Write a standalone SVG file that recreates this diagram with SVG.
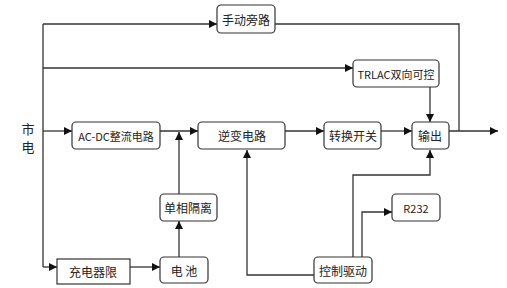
<svg xmlns="http://www.w3.org/2000/svg" width="507" height="288" viewBox="0 0 507 288">
<defs>
<marker id="ar" viewBox="0 0 10 10" refX="10" refY="5" markerWidth="9" markerHeight="8" markerUnits="userSpaceOnUse" orient="auto">
<path d="M0,0 L10,5 L0,10 z" fill="#111"/>
</marker>
<style>
.b{fill:#fff;stroke:#333;stroke-width:1.2}
.t{font-family:"Noto Sans CJK SC","Liberation Sans",sans-serif;font-size:12px;fill:#222;text-anchor:middle;dominant-baseline:central}
.s{font-size:11px}
.c{fill:none;stroke:#333;stroke-width:1.3}
</style>
</defs>
<rect width="507" height="288" fill="#fff"/>
<text class="t" x="28" y="128" style="font-size:13px">市</text>
<text class="t" x="28" y="146" style="font-size:13px">电</text>
<g id="connectors">
<path class="c" d="M43,24 V267"/>
<path class="c" d="M43,24 H217" marker-end="url(#ar)"/>
<path class="c" d="M43,68 H353" marker-end="url(#ar)"/>
<path class="c" d="M43,131 H72" marker-end="url(#ar)"/>
<path class="c" d="M43,267 H57" marker-end="url(#ar)"/>
<path class="c" d="M160,131 H198" marker-end="url(#ar)"/>
<path class="c" d="M179,194 V132" marker-end="url(#ar)"/>
<path class="c" d="M179,257 V221" marker-end="url(#ar)"/>
<path class="c" d="M130,267 H160" marker-end="url(#ar)"/>
<path class="c" d="M285,131 H324" marker-end="url(#ar)"/>
<path class="c" d="M381,131 H412" marker-end="url(#ar)"/>
<path class="c" d="M449,131 H498" marker-end="url(#ar)"/>
<path class="c" d="M275,24 H459 V131"/>
<path class="c" d="M430,87 V122" marker-end="url(#ar)"/>
<path class="c" d="M314,275 H247 V150" marker-end="url(#ar)"/>
<path class="c" d="M353,257 V175 H430 V150" marker-end="url(#ar)"/>
<path class="c" d="M362,257 V212 H392" marker-end="url(#ar)"/>
</g>
<g id="manual-bypass"><rect class="b" x="217" y="5" width="58" height="28" rx="4"/><text class="t" x="246" y="19">手动旁路</text></g>
<g id="trlac"><rect class="b" x="353" y="60" width="86" height="27" rx="4"/><text class="t s" x="396" y="73.5">TRLAC双向可控</text></g>
<g id="acdc"><rect class="b" x="72" y="122" width="88" height="27" rx="4"/><text class="t s" x="116" y="135.5">AC-DC整流电路</text></g>
<g id="inverter"><rect class="b" x="198" y="122" width="87" height="27" rx="4"/><text class="t" x="242" y="135.5">逆变电路</text></g>
<g id="switch"><rect class="b" x="324" y="122" width="57" height="27" rx="4"/><text class="t" x="353" y="135.5">转换开关</text></g>
<g id="output"><rect class="b" x="412" y="122" width="37" height="27" rx="4"/><text class="t" x="430" y="135.5">输出</text></g>
<g id="isolation"><rect class="b" x="160" y="194" width="57" height="27" rx="4"/><text class="t" x="188" y="207.5">单相隔离</text></g>
<g id="r232"><rect class="b" x="392" y="194" width="48" height="27" rx="4"/><text class="t s" x="416" y="207.5">R232</text></g>
<g id="charger"><rect class="b" x="57" y="259" width="73" height="25"/><text class="t" x="93" y="271.5">充电器限</text></g>
<g id="battery"><rect class="b" x="160" y="257" width="48" height="26" rx="4"/><text class="t" x="184" y="270" xml:space="preserve">电 池</text></g>
<g id="control"><rect class="b" x="314" y="257" width="58" height="26" rx="4"/><text class="t" x="343" y="270">控制驱动</text></g>
</svg>
